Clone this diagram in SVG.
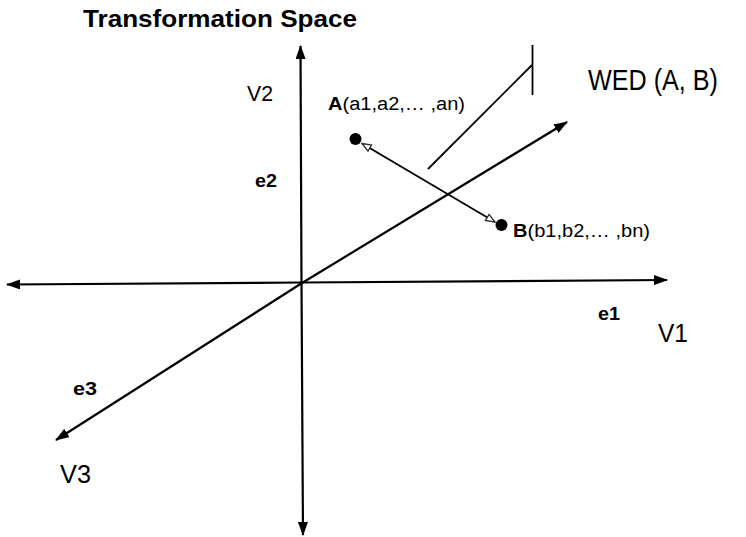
<svg xmlns="http://www.w3.org/2000/svg" width="746" height="537" viewBox="0 0 746 537">
<style>
.axis{stroke:#000;stroke-width:2.2;fill:none}
.thin{stroke:#000;stroke-width:1.8;fill:none}
.lbl{font-family:"Liberation Sans",Arial,sans-serif;fill:#000}
.b{font-weight:bold}
</style>
<defs>
<marker id="ah" viewBox="0 0 14 10" refX="13" refY="5" markerWidth="14" markerHeight="10" markerUnits="userSpaceOnUse" orient="auto">
<path d="M0,0 L14,5 L0,10 z" fill="#000"/>
</marker>
<marker id="oh" viewBox="0 0 11 9" refX="10" refY="4.5" markerWidth="11" markerHeight="9" markerUnits="userSpaceOnUse" orient="auto-start-reverse">
<path d="M1,1 L10,4.5 L1,8 z" fill="#fff" stroke="#333" stroke-width="1.4"/>
</marker>
</defs>
<rect width="746" height="537" fill="#fff"/>
<g id="connectors">
<line class="axis" x1="301.5" y1="283" x2="300.5" y2="46" marker-end="url(#ah)"/>
<line class="axis" x1="301.5" y1="283" x2="303" y2="535" marker-end="url(#ah)"/>
<line class="axis" x1="302" y1="282.5" x2="667" y2="280" marker-end="url(#ah)"/>
<line class="axis" x1="302" y1="282.5" x2="7" y2="284.5" marker-end="url(#ah)"/>
<line class="axis" x1="302" y1="283" x2="567" y2="122" marker-end="url(#ah)"/>
<line class="axis" x1="302" y1="283" x2="56" y2="440" marker-end="url(#ah)"/>
<line class="thin" x1="362" y1="143.5" x2="495" y2="222" marker-start="url(#oh)" marker-end="url(#oh)"/>
<line class="thin" x1="428" y1="169" x2="532" y2="65"/>
<line class="thin" x1="532.5" y1="45" x2="532.5" y2="95"/>
</g>
<g id="title"><text class="lbl b" x="83" y="27" font-size="24" textLength="274" lengthAdjust="spacingAndGlyphs">Transformation Space</text></g>
<g id="v2"><text class="lbl" x="247" y="101" font-size="22" textLength="26" lengthAdjust="spacingAndGlyphs">V2</text></g>
<g id="e2"><text class="lbl b" x="255" y="187" font-size="18" textLength="22" lengthAdjust="spacingAndGlyphs">e2</text></g>
<g id="pointA">
<circle cx="355.5" cy="139" r="6" fill="#000"/>
<text class="lbl" x="328" y="110" font-size="18" textLength="137" lengthAdjust="spacingAndGlyphs"><tspan class="b">A</tspan>(a1,a2,… ,an)</text>
</g>
<g id="pointB">
<circle cx="501.5" cy="225" r="6" fill="#000"/>
<text class="lbl" x="513" y="237" font-size="18" textLength="137" lengthAdjust="spacingAndGlyphs"><tspan class="b">B</tspan>(b1,b2,… ,bn)</text>
</g>
<g id="wed"><text class="lbl" x="588" y="90" font-size="29" textLength="130" lengthAdjust="spacingAndGlyphs">WED (A, B)</text></g>
<g id="e1"><text class="lbl b" x="598" y="320" font-size="18" textLength="22" lengthAdjust="spacingAndGlyphs">e1</text></g>
<g id="v1"><text class="lbl" x="658" y="342" font-size="26" textLength="30" lengthAdjust="spacingAndGlyphs">V1</text></g>
<g id="e3"><text class="lbl b" x="73" y="395" font-size="18" textLength="24" lengthAdjust="spacingAndGlyphs">e3</text></g>
<g id="v3"><text class="lbl" x="60" y="483" font-size="26" textLength="31" lengthAdjust="spacingAndGlyphs">V3</text></g>
</svg>
